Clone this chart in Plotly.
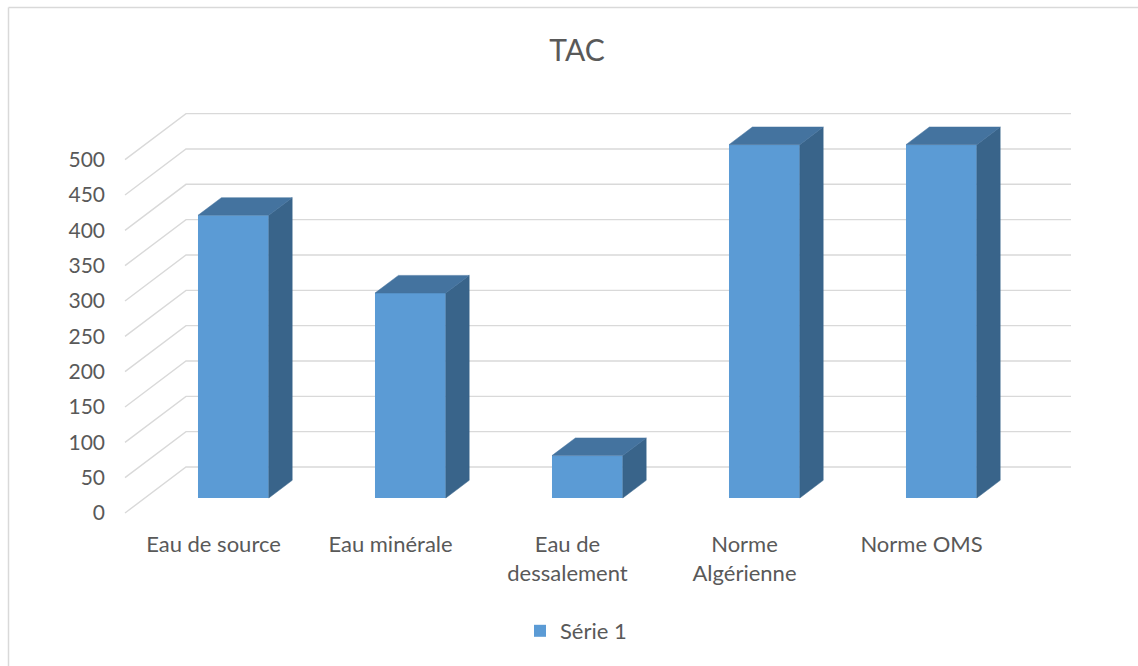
import plotly.graph_objects as go

# ---- data ----
categories = ["Eau de source", "Eau minérale", "Eau de<br>dessalement",
              "Norme<br>Algérienne", "Norme OMS"]
values = [400, 290, 60, 500, 500]
series_name = "Série 1"
y_ticks = list(range(0, 501, 50))
title_text = "TAC"

# ---- look ----
FRONT = "#5B9BD5"
TOP = "#44739F"
SIDE = "#39648A"
GRID = "#D9D9D9"
TEXT = "#595959"
FONT = "Lato"

W, H = 1138, 666
# pixel geometry of the plotting frame
L_PX, R_PX, T_PX, B_PX = 118, 1090, 85, 528
X0_PX, SX = 125, 177.0        # x = 0 at the front floor edge, one unit per category slot
Y0_PX, SY = 513, 0.7067       # y = 0 at the front floor edge, pixels per value unit

# oblique projection of the depth axis (full depth, in data units)
DX = 61 / SX
DY = 46 / SY
D_FRONT, D_BACK = 0.326, 0.71  # bar depth span (fraction of floor depth)
HALF_W = 0.2                   # half bar width in slot units

x_range = [(L_PX - X0_PX) / SX, (R_PX - X0_PX) / SX]
y_range = [(Y0_PX - B_PX) / SY, (Y0_PX - T_PX) / SY]

fig = go.Figure()

# back-wall + side-wall gridlines (base axes, drawn underneath)
n_cat = len(categories)
for v in y_ticks:
    fig.add_trace(go.Scatter(
        x=[0, DX, n_cat + DX], y=[v, v + DY, v + DY],
        mode="lines", line=dict(color=GRID, width=1.4),
        hoverinfo="skip", showlegend=False))

# column solids live on an overlaying pair of axes so they sit above the grid
for i, v in enumerate(values):
    xl, xr = i + 0.5 - HALF_W, i + 0.5 + HALF_W
    fx, fy = DX * D_FRONT, DY * D_FRONT
    bx, by = DX * D_BACK, DY * D_BACK
    fig.add_trace(go.Scatter(
        x=[xr + fx, xr + bx, xr + bx, xr + fx, xr + fx],
        y=[fy, by, v + by, v + fy, fy],
        mode="lines", fill="toself", fillcolor=SIDE,
        line=dict(color=SIDE, width=0.5),
        xaxis="x2", yaxis="y2",
        hoverinfo="skip", showlegend=False))
    fig.add_trace(go.Scatter(
        x=[xl + fx, xr + fx, xr + bx, xl + bx, xl + fx],
        y=[v + fy, v + fy, v + by, v + by, v + fy],
        mode="lines", fill="toself", fillcolor=TOP,
        line=dict(color=TOP, width=0.5),
        xaxis="x2", yaxis="y2",
        hoverinfo="skip", showlegend=False))

# front faces
fig.add_trace(go.Bar(
    x=[i + 0.5 + DX * D_FRONT for i in range(n_cat)],
    y=values, base=DY * D_FRONT, width=2 * HALF_W,
    marker=dict(color=FRONT, line=dict(width=0)),
    xaxis="x2", yaxis="y2",
    name=series_name, showlegend=True))

def px_to_paper_x(px):
    return (px - L_PX) / (R_PX - L_PX)

def px_to_paper_y(py):
    return (B_PX - py) / (B_PX - T_PX)

tick_font = dict(size=21, color=TEXT, family=FONT)

fig.update_layout(
    width=W, height=H,
    margin=dict(l=L_PX, r=W - R_PX, t=T_PX, b=H - B_PX),
    paper_bgcolor="white", plot_bgcolor="white",
    font=dict(family=FONT, color=TEXT, size=21),
    title=dict(text=title_text, x=577 / W, xanchor="center",
               y=1 - 50 / H, yanchor="middle", xref="container", yref="container",
               font=dict(size=30, color=TEXT, family=FONT)),
    xaxis=dict(range=x_range, showgrid=False, zeroline=False, showline=False,
               tickvals=[i + 0.5 for i in range(n_cat)], ticktext=categories,
               ticks="", ticklabelstandoff=1,
               tickfont=dict(size=22, color=TEXT, family=FONT), fixedrange=True),
    yaxis=dict(range=y_range, showgrid=False, zeroline=False, showline=False,
               tickvals=y_ticks, ticks="", ticklabelstandoff=12,
               tickfont=tick_font, fixedrange=True),
    xaxis2=dict(range=x_range, overlaying="x", visible=False, fixedrange=True),
    yaxis2=dict(range=y_range, overlaying="y", visible=False, fixedrange=True),
    legend=dict(orientation="h", xref="container", yref="container",
                x=576 / W, xanchor="center", y=1 - 631 / H, yanchor="middle",
                font=dict(size=22, color=TEXT, family=FONT)),
    showlegend=True,
    shapes=[
        dict(type="line", xref="paper", yref="paper",
             x0=px_to_paper_x(8.5), x1=px_to_paper_x(W + 2),
             y0=px_to_paper_y(7.5), y1=px_to_paper_y(7.5),
             line=dict(color=GRID, width=1.5)),
        dict(type="line", xref="paper", yref="paper",
             x0=px_to_paper_x(8.5), x1=px_to_paper_x(8.5),
             y0=px_to_paper_y(7.5), y1=px_to_paper_y(H + 2),
             line=dict(color=GRID, width=1.5)),
    ],
)

fig.write_html("out.html")
